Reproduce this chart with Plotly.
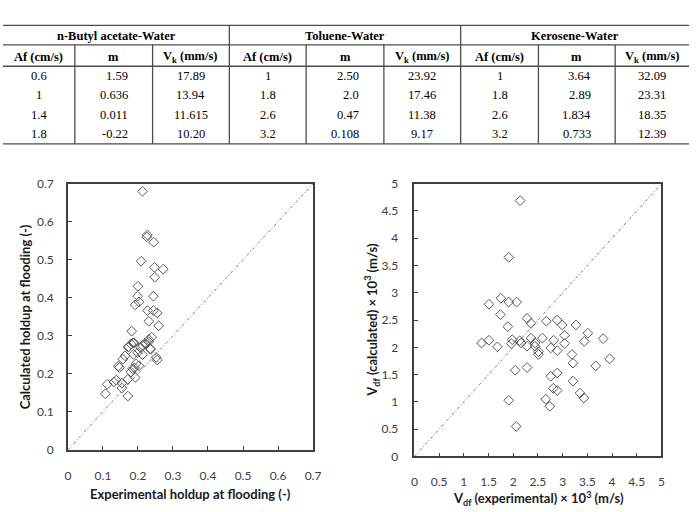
import plotly.graph_objects as go

# ---------------- data ----------------
groups = ["n-Butyl acetate-Water", "Toluene-Water", "Kerosene-Water"]
col_labels = ["Af (cm/s)", "m", "V<sub>k</sub> (mm/s)"] * 3
butyl_af = ["0.6", "1", "1.4", "1.8"]
butyl_m = ["1.59", "0.636", "0.011", "-0.22"]
butyl_vk = ["17.89", "13.94", "11.615", "10.20"]
toluene_af = ["1", "1.8", "2.6", "3.2"]
toluene_m = ["2.50", "2.0", "0.47", "0.108"]
toluene_vk = ["23.92", "17.46", "11.38", "9.17"]
kero_af = ["1", "1.8", "2.6", "3.2"]
kero_m = ["3.64", "2.89", "1.834", "0.733"]
kero_vk = ["32.09", "23.31", "18.35", "12.39"]

hold_exp = [0.213, 0.227, 0.225, 0.245, 0.209, 0.247, 0.272, 0.248, 0.200, 0.199, 0.244, 0.192, 0.203,
            0.227, 0.244, 0.255, 0.231, 0.259, 0.182, 0.239, 0.231, 0.186, 0.173, 0.220, 0.213, 0.235,
            0.252, 0.180, 0.189, 0.172, 0.222, 0.231, 0.208, 0.236, 0.187, 0.163, 0.199, 0.213, 0.157,
            0.255, 0.144, 0.147, 0.194, 0.203, 0.185, 0.190, 0.180, 0.192, 0.171, 0.138, 0.154, 0.131,
            0.112, 0.154, 0.171, 0.107]
hold_calc = [0.680, 0.565, 0.560, 0.546, 0.496, 0.480, 0.475, 0.454, 0.430, 0.404, 0.404, 0.381, 0.389,
             0.366, 0.366, 0.360, 0.338, 0.326, 0.312, 0.296, 0.290, 0.281, 0.271, 0.280, 0.275, 0.266,
             0.243, 0.278, 0.281, 0.270, 0.278, 0.284, 0.268, 0.264, 0.251, 0.247, 0.255, 0.250, 0.238,
             0.236, 0.220, 0.216, 0.226, 0.221, 0.213, 0.215, 0.204, 0.190, 0.185, 0.183, 0.175, 0.178,
             0.172, 0.162, 0.141, 0.147]

vdf_exp = [2.14, 1.91, 1.51, 1.75, 1.91, 2.07, 1.74, 2.28, 2.36, 1.89, 2.67, 2.89, 2.99, 3.27, 3.51,
           3.44, 3.82, 1.36, 1.51, 1.68, 1.98, 1.96, 2.13, 2.16, 2.28, 2.36, 2.44, 2.44, 2.59, 2.51,
           2.76, 2.82, 2.89, 3.04, 3.04, 3.19, 2.51, 3.21, 3.95, 3.67, 2.04, 2.28, 2.89, 2.76, 3.21,
           2.81, 2.89, 3.35, 3.43, 2.66, 1.91, 2.74, 2.06]
vdf_calc = [4.69, 3.65, 2.79, 2.90, 2.83, 2.83, 2.60, 2.53, 2.44, 2.38, 2.48, 2.50, 2.41, 2.41, 2.26,
            2.11, 2.16, 2.08, 2.13, 2.01, 2.14, 2.07, 2.12, 2.08, 2.02, 2.17, 2.08, 2.02, 2.17, 1.92,
            1.99, 2.13, 1.94, 2.22, 2.07, 1.87, 1.87, 1.71, 1.79, 1.66, 1.58, 1.63, 1.53, 1.47, 1.38,
            1.25, 1.21, 1.16, 1.07, 1.05, 1.03, 0.92, 0.55]

table_cols = [butyl_af, butyl_m, butyl_vk, toluene_af, toluene_m, toluene_vk, kero_af, kero_m, kero_vk]

# ---------------- layout helpers ----------------
W, H = 697, 512
col_w = [73, 79, 78, 78, 79, 78, 79, 78, 75]
bounds = [0]
for w in col_w:
    bounds.append(bounds[-1] + w)

def px(x):
    return x / W

def py(y):
    return 1 - y / H

serif = "Liberation Serif"
sans = "Lato"
tick_col = "#404040"

fig = go.Figure()

marker = dict(symbol="diamond-open", size=7.5, color="#5a5a5a", line=dict(width=1, color="#5a5a5a"))
diag = dict(color="#7a7a7a", width=1, dash="3px,2px,1px,2px")

fig.add_trace(go.Scatter(x=[0, 0.7], y=[0, 0.7], mode="lines", line=diag, xaxis="x", yaxis="y",
                         showlegend=False, hoverinfo="skip"))
fig.add_trace(go.Scatter(x=hold_exp, y=hold_calc, mode="markers", marker=marker, xaxis="x", yaxis="y",
                         showlegend=False))
fig.add_trace(go.Scatter(x=[0, 5], y=[0, 5], mode="lines", line=diag, xaxis="x2", yaxis="y2",
                         showlegend=False, hoverinfo="skip"))
fig.add_trace(go.Scatter(x=vdf_exp, y=vdf_calc, mode="markers", marker=marker, xaxis="x2", yaxis="y2",
                         showlegend=False))

axis_common = dict(showline=True, mirror=True, linecolor="#404040", linewidth=1.5, ticks="inside",
                   ticklen=4, tickcolor="#404040", showgrid=False, zeroline=False,
                   tickfont=dict(family=sans, size=12, color=tick_col))

fig.update_layout(
    width=W, height=H, margin=dict(l=0, r=0, t=0, b=0),
    paper_bgcolor="white", plot_bgcolor="white",
    xaxis=dict(domain=[px(66), px(315)], range=[0, 0.7], dtick=0.1, anchor="y",
               ticklabelstandoff=14, **axis_common),
    yaxis=dict(domain=[py(455), py(181)], range=[0, 0.7], dtick=0.1, anchor="x",
               ticklabelstandoff=10, **axis_common),
    xaxis2=dict(domain=[px(418), px(669)], range=[0, 5], dtick=0.5, anchor="y2",
                ticklabelstandoff=13, **axis_common),
    yaxis2=dict(domain=[py(462), py(181)], range=[0, 5], dtick=0.5, anchor="x2",
                ticklabelstandoff=12, **axis_common),
)

def note(text, x, y, font, angle=0, xanchor="center"):
    fig.add_annotation(text=text, x=px(x), y=py(y), xref="paper", yref="paper", showarrow=False,
                       xanchor=xanchor, yanchor="middle", textangle=angle, font=font)

title_font = dict(family=sans, size=13, color="#1a1a1a")
note("<b>Experimental holdup at flooding (-)</b>", 190, 501, title_font)
note("<b>Calculated holdup at flooding (-)</b>", 22, 318, title_font, angle=-90)
note("<b>V<sub>df</sub> (experimental) × 10<sup>3</sup> (m/s)</b>", 544, 505, title_font)
note("<b>V<sub>df</sub> (calculated) × 10<sup>3</sup> (m/s)</b>", 375, 321, title_font, angle=-90)

# ---------------- table ----------------
tfont = dict(family=serif, size=12.5, color="black")
for g, name in enumerate(groups):
    cx = (bounds[3 * g] + bounds[3 * g + 3]) / 2
    note("<b>%s</b>" % name, cx, 29, tfont)
for i, lab in enumerate(col_labels):
    cx = (bounds[i] + bounds[i + 1]) / 2
    note("<b>%s</b>" % lab, cx, 50, tfont)
    for r, val in enumerate(table_cols[i]):
        if i % 3 == 1:
            note(val, bounds[i + 1] - 23, 70 + 20 * r, tfont, xanchor="right")
        else:
            note(val, cx, 70 + 20 * r, tfont)

line_style = dict(color="#4d4d4d", width=1.3)
for yy in [18, 38, 60, 140]:
    fig.add_shape(type="line", xref="paper", yref="paper", x0=0, x1=1, y0=py(yy), y1=py(yy),
                  line=line_style)
for i, b in enumerate(bounds[1:-1], start=1):
    top = 18 if i % 3 == 0 else 38
    fig.add_shape(type="line", xref="paper", yref="paper", x0=px(b), x1=px(b), y0=py(top), y1=py(140),
                  line=line_style)

fig.write_html("out.html")
